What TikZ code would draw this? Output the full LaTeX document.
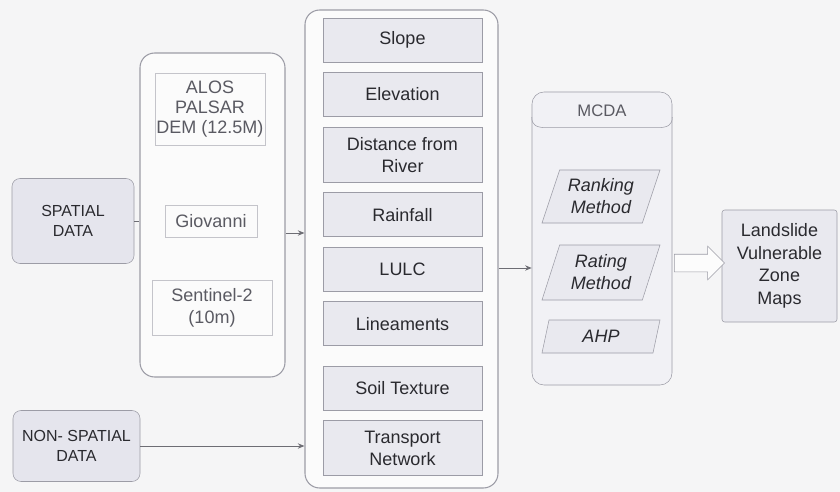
\documentclass[tikz,border=0pt]{standalone}
\usepackage{fontspec}
\setmainfont{Liberation Sans}
\usetikzlibrary{positioning,arrows.meta,shapes.geometric,shapes.arrows}

\definecolor{bg}{HTML}{F5F5F6}
\definecolor{boxfill}{HTML}{E5E5ED}
\definecolor{layerfill}{HTML}{E9E9EF}
\definecolor{edge}{HTML}{9C9CA6}
\definecolor{inkdark}{HTML}{2A2A2F}
\definecolor{inkgray}{HTML}{5A5A62}

\begin{document}
\begin{tikzpicture}[
	x=0.75pt, y=-0.75pt,
	>={Stealth[length=5pt,width=4pt]},
	font=\fontsize{13.5}{16.5}\selectfont,
	text=inkdark,
	inbox/.style={
		rectangle,
		rounded corners=6pt,
		draw=edge,
		fill=boxfill,
		align=center,
		font=\fontsize{12}{15}\selectfont
	},
	group/.style={
		rectangle,
		rounded corners=11pt,
		draw=edge,
		line width=0.8pt,
		fill=white!60!bg
	},
	source/.style={
		rectangle,
		draw=edge!60,
		align=center,
		text=inkgray,
		inner sep=1pt
	},
	layer/.style={
		rectangle,
		draw=edge,
		fill=layerfill,
		align=center,
		minimum width=119.25pt,
		minimum height=33pt,
		inner sep=1pt
	},
	method/.style={
		trapezium,
		trapezium left angle=65,
		trapezium right angle=115,
		trapezium stretches body=true,
		draw=edge,
		fill=layerfill,
		align=center,
		inner sep=1pt,
		font=\fontsize{13.5}{16.5}\selectfont\itshape,
		minimum width=88.5pt
	},
	link/.style={
		->,
		draw=edge!70!black,
		line width=0.6pt
	}
	]
	
	\fill[bg] (0,0) rectangle (840,492);
	\useasboundingbox (0,0) rectangle (840,492);
	
	% inputs
	\node[inbox, minimum width=91.5pt, minimum height=63.75pt] (spatial) at (73,221) {SPATIAL\\DATA};
	\node[inbox, minimum width=95.25pt, minimum height=53.25pt] (nonspatial) at (76.5,446) {NON- SPATIAL\\DATA};
	
	% data sources
	\node[group, minimum width=108.75pt, minimum height=243pt] (sources) at (212.5,215) {};
	\node[source, minimum width=82.5pt, minimum height=54pt, font=\fontsize{13.5}{15}\selectfont] (alos) at (210,109) {ALOS\\PALSAR\\DEM (12.5M)};
	\node[source, minimum width=69pt, minimum height=24pt] (giovanni) at (211,221) {Giovanni};
	\node[source, minimum width=90pt, minimum height=41.25pt] (sentinel) at (212,307.5) {Sentinel-2\\(10m)};
	
	% thematic layers
	\node[group, minimum width=144.75pt, minimum height=358.5pt] (layers) at (401.5,249) {};
	\node[layer] (slope) at (402.5,40) {Slope};
	\node[layer, below=7.5pt of slope] (elevation) {Elevation};
	\node[layer, minimum height=41.25pt, below=7.5pt of elevation] (river) {Distance from\\River};
	\node[layer, below=7.5pt of river] (rainfall) {Rainfall};
	\node[layer, below=7.5pt of rainfall] (lulc) {LULC};
	\node[layer, below=7.5pt of lulc] (lineaments) {Lineaments};
	\node[layer, below=15pt of lineaments] (soil) {Soil Texture};
	\node[layer, minimum height=41.25pt, below=7.5pt of soil] (transport) {Transport\\Network};
	
	% MCDA
	\node[rectangle, rounded corners=9pt, draw=edge, fill=boxfill!55!white, minimum width=105pt, minimum height=219.75pt] (mcda) at (602,238.5) {};
	\node[font=\fontsize{12.5}{15}\selectfont, text=inkgray] (mcdatitle) at (602,111) {MCDA};
	\draw[edge] ([yshift=-19pt]mcda.north west)
		.. controls ([yshift=-25pt]mcda.north west) and ([xshift=3pt,yshift=-27pt]mcda.north west) .. ([xshift=12pt,yshift=-27pt]mcda.north west)
		-- ([xshift=-12pt,yshift=-27pt]mcda.north east)
		.. controls ([xshift=-3pt,yshift=-27pt]mcda.north east) and ([yshift=-25pt]mcda.north east) .. ([yshift=-19pt]mcda.north east);
	\node[method, minimum height=39.75pt] (ranking) at (601,196.5) {Ranking\\Method};
	\node[method, minimum height=41.25pt] (rating) at (601,272.5) {Rating\\Method};
	\node[method, minimum height=24.75pt] (ahp) at (601,336.5) {AHP};
	
	% output
	\node[rectangle, rounded corners=2pt, draw=edge, fill=layerfill, align=center, minimum width=86.25pt, minimum height=84pt, font=\fontsize{13.5}{17}\selectfont] (result) at (779.5,266) {Landslide\\Vulnerable\\Zone\\Maps};
	\node[single arrow, draw=edge, fill=white!70!bg, minimum height=37.5pt, single arrow head extend=6pt, inner sep=6.375pt] (flow) at (695,263) {};
	
	% connectors
	\draw[draw=edge!70!black, line width=0.6pt] (spatial.east) -- (spatial.east -| sources.west);
	\coordinate (srcout) at ([yshift=-13.5pt]sources.east);
	\draw[link] (srcout) -- (srcout -| layers.west);
	\draw[link] (nonspatial.east) -- (nonspatial.east -| layers.west);
	\coordinate (lyrout) at ([yshift=-14.25pt]layers.east);
	\draw[link] (lyrout) -- (lyrout -| mcda.west);
	
\end{tikzpicture}
\end{document}
